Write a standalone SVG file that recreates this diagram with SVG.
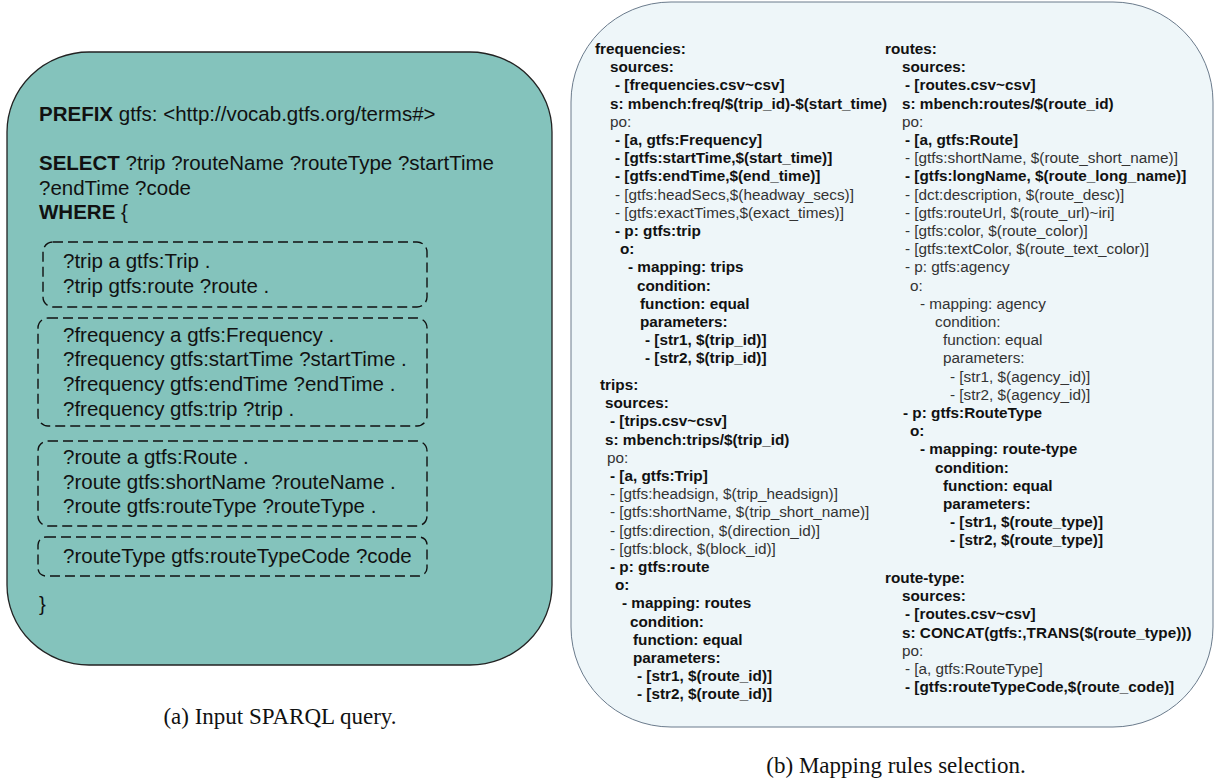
<svg xmlns="http://www.w3.org/2000/svg" width="1215" height="783" viewBox="0 0 1215 783">
<style>
.q{font-family:"Liberation Sans",Arial,sans-serif;font-size:20.5px;fill:#111}
.kw{font-weight:bold}
.m{font-family:"Liberation Sans",Arial,sans-serif;font-size:15.3px}
.b{font-weight:bold;fill:#111}
.r{font-weight:normal;fill:#333}
.cap{font-family:"Liberation Serif","Times New Roman",serif;font-size:23px;fill:#111;text-anchor:middle}
.dash{fill:none;stroke:#111;stroke-width:1.4;stroke-dasharray:10 5}
</style>
<rect width="1215" height="783" fill="#ffffff"/>
<g id="query">
<rect x="7" y="52" width="545" height="613" rx="82" ry="80" fill="#84c3bc" stroke="#222" stroke-width="1.3"/>
<text class="q" x="39" y="121"><tspan class="kw">PREFIX</tspan> gtfs: &lt;http://vocab.gtfs.org/terms#&gt;</text>
<text class="q" x="39" y="170"><tspan class="kw">SELECT</tspan> ?trip ?routeName ?routeType ?startTime</text>
<text class="q" x="39" y="195">?endTime ?code</text>
<text class="q" x="39" y="219"><tspan class="kw">WHERE</tspan> {</text>
<g id="bgp-trip">
<rect class="dash" x="43" y="242" width="384" height="65" rx="10"/>
<text class="q" x="63" y="268">?trip a gtfs:Trip .</text>
<text class="q" x="63" y="293">?trip gtfs:route ?route .</text>
</g>
<g id="bgp-frequency">
<rect class="dash" x="38" y="318" width="389" height="108" rx="10"/>
<text class="q" x="63" y="342">?frequency a gtfs:Frequency .</text>
<text class="q" x="63" y="366">?frequency gtfs:startTime ?startTime .</text>
<text class="q" x="63" y="391">?frequency gtfs:endTime ?endTime .</text>
<text class="q" x="63" y="416">?frequency gtfs:trip ?trip .</text>
</g>
<g id="bgp-route">
<rect class="dash" x="38" y="441" width="389" height="85" rx="10"/>
<text class="q" x="63" y="464">?route a gtfs:Route .</text>
<text class="q" x="63" y="489">?route gtfs:shortName ?routeName .</text>
<text class="q" x="63" y="513">?route gtfs:routeType ?routeType .</text>
</g>
<g id="bgp-routetype">
<rect class="dash" x="38" y="537" width="389" height="39" rx="8"/>
<text class="q" x="63" y="563">?routeType gtfs:routeTypeCode ?code</text>
</g>
<text class="q" x="39" y="611">}</text>
</g>
<g id="mapping">
<rect x="571" y="2" width="642" height="725" rx="100" ry="100" fill="#eef6f9" stroke="#6b7b8c" stroke-width="1"/>
<g id="tm-frequencies" class="m">
<text class="b" x="595" y="54">frequencies:</text>
<text class="b" x="610" y="72.2">sources:</text>
<text class="b" x="615" y="90.4">- [frequencies.csv~csv]</text>
<text class="b" x="610" y="108.6">s: mbench:freq/$(trip_id)-$(start_time)</text>
<text class="r" x="610" y="126.8">po:</text>
<text class="b" x="615" y="145">- [a, gtfs:Frequency]</text>
<text class="b" x="615" y="163.2">- [gtfs:startTime,$(start_time)]</text>
<text class="b" x="615" y="181.4">- [gtfs:endTime,$(end_time)]</text>
<text class="r" x="615" y="199.6">- [gtfs:headSecs,$(headway_secs)]</text>
<text class="r" x="615" y="217.8">- [gtfs:exactTimes,$(exact_times)]</text>
<text class="b" x="615" y="236">- p: gtfs:trip</text>
<text class="b" x="620" y="254.2">o:</text>
<text class="b" x="628" y="272.4">- mapping: trips</text>
<text class="b" x="637" y="290.6">condition:</text>
<text class="b" x="640" y="308.8">function: equal</text>
<text class="b" x="640" y="327">parameters:</text>
<text class="b" x="645" y="345.2">- [str1, $(trip_id)]</text>
<text class="b" x="645" y="363.4">- [str2, $(trip_id)]</text>
</g>
<g id="tm-trips" class="m">
<text class="b" x="600" y="390">trips:</text>
<text class="b" x="605" y="408.2">sources:</text>
<text class="b" x="610" y="426.4">- [trips.csv~csv]</text>
<text class="b" x="605" y="444.6">s: mbench:trips/$(trip_id)</text>
<text class="r" x="607" y="462.8">po:</text>
<text class="b" x="610" y="481">- [a, gtfs:Trip]</text>
<text class="r" x="610" y="499.2">- [gtfs:headsign, $(trip_headsign)]</text>
<text class="r" x="610" y="517.4">- [gtfs:shortName, $(trip_short_name)]</text>
<text class="r" x="610" y="535.6">- [gtfs:direction, $(direction_id)]</text>
<text class="r" x="610" y="553.8">- [gtfs:block, $(block_id)]</text>
<text class="b" x="610" y="572">- p: gtfs:route</text>
<text class="b" x="615" y="590.2">o:</text>
<text class="b" x="622" y="608.4">- mapping: routes</text>
<text class="b" x="630" y="626.6">condition:</text>
<text class="b" x="633" y="644.8">function: equal</text>
<text class="b" x="633" y="663">parameters:</text>
<text class="b" x="637" y="681.2">- [str1, $(route_id)]</text>
<text class="b" x="637" y="699.4">- [str2, $(route_id)]</text>
</g>
<g id="tm-routes" class="m">
<text class="b" x="885" y="54">routes:</text>
<text class="b" x="902" y="72.2">sources:</text>
<text class="b" x="905" y="90.4">- [routes.csv~csv]</text>
<text class="b" x="902" y="108.6">s: mbench:routes/$(route_id)</text>
<text class="r" x="902" y="126.8">po:</text>
<text class="b" x="905" y="145">- [a, gtfs:Route]</text>
<text class="r" x="905" y="163.2">- [gtfs:shortName, $(route_short_name)]</text>
<text class="b" x="905" y="181.4">- [gtfs:longName, $(route_long_name)]</text>
<text class="r" x="905" y="199.6">- [dct:description, $(route_desc)]</text>
<text class="r" x="905" y="217.8">- [gtfs:routeUrl, $(route_url)~iri]</text>
<text class="r" x="905" y="236">- [gtfs:color, $(route_color)]</text>
<text class="r" x="905" y="254.2">- [gtfs:textColor, $(route_text_color)]</text>
<text class="r" x="905" y="272.4">- p: gtfs:agency</text>
<text class="r" x="910" y="290.6">o:</text>
<text class="r" x="920" y="308.8">- mapping: agency</text>
<text class="r" x="935" y="327">condition:</text>
<text class="r" x="943" y="345.2">function: equal</text>
<text class="r" x="943" y="363.4">parameters:</text>
<text class="r" x="950" y="381.6">- [str1, $(agency_id)]</text>
<text class="r" x="950" y="399.8">- [str2, $(agency_id)]</text>
<text class="b" x="903" y="418">- p: gtfs:RouteType</text>
<text class="b" x="910" y="436.2">o:</text>
<text class="b" x="920" y="454.4">- mapping: route-type</text>
<text class="b" x="935" y="472.6">condition:</text>
<text class="b" x="943" y="490.8">function: equal</text>
<text class="b" x="943" y="509">parameters:</text>
<text class="b" x="950" y="527.2">- [str1, $(route_type)]</text>
<text class="b" x="950" y="545.4">- [str2, $(route_type)]</text>
</g>
<g id="tm-route-type" class="m">
<text class="b" x="885" y="583">route-type:</text>
<text class="b" x="902" y="601.2">sources:</text>
<text class="b" x="905" y="619.4">- [routes.csv~csv]</text>
<text class="b" x="902" y="637.6">s: CONCAT(gtfs:,TRANS($(route_type)))</text>
<text class="r" x="902" y="655.8">po:</text>
<text class="r" x="905" y="674">- [a, gtfs:RouteType]</text>
<text class="b" x="905" y="692.2">- [gtfs:routeTypeCode,$(route_code)]</text>
</g>
</g>
<g id="connectors"/>
<g id="captions">
<text class="cap" x="280" y="724">(a) Input SPARQL query.</text>
<text class="cap" x="896" y="773">(b) Mapping rules selection.</text>
</g>
</svg>
